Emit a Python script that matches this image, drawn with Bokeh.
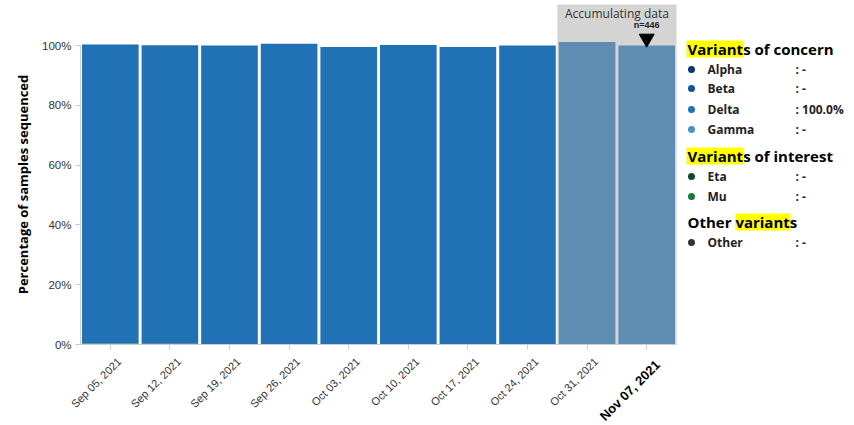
import math
from bokeh.plotting import figure
from bokeh.models import (ColumnDataSource, Range1d, FixedTicker, PrintfTickFormatter,
                          LinearAxis, Label)
from bokeh.layouts import row
from bokeh.core.properties import value
from bokeh.embed import file_html
from bokeh.resources import INLINE

# ---------------- data ----------------
weeks = ["Sep 05, 2021", "Sep 12, 2021", "Sep 19, 2021", "Sep 26, 2021", "Oct 03, 2021",
         "Oct 10, 2021", "Oct 17, 2021", "Oct 24, 2021", "Oct 31, 2021", "Nov 07, 2021"]
accumulating = [False, False, False, False, False, False, False, False, True, True]
alpha = [0.0, 0.3, 0.0, 0.0, 0.0, 0.0, 0.0, 0.0, 0.0, 0.0]
beta = [0.0] * 10
delta = [100.0, 99.8, 100.0, 100.6, 99.5, 100.2, 99.5, 100.0, 101.2, 100.0]
gamma = [0.0] * 10
eta = [0.0] * 10
mu = [0.3, 0.0, 0.0, 0.0, 0.0, 0.0, 0.0, 0.0, 0.0, 0.0]
other = [0.0] * 10
last_n = 446
y_ticks = [0, 20, 40, 60, 80, 100]

legend_groups = [
    ("Variants of concern", ["Alpha", "Beta", "Delta", "Gamma"]),
    ("Variants of interest", ["Eta", "Mu"]),
    ("Other variants", ["Other"]),
]
legend_values = {"Alpha": ": -", "Beta": ": -", "Delta": ": 100.0%", "Gamma": ": -",
                 "Eta": ": -", "Mu": ": -", "Other": ": -"}

colors = {"Alpha": "#0d3470", "Beta": "#0b559f", "Delta": "#2171b5", "Gamma": "#4a92c6",
          "Eta": "#0b4a24", "Mu": "#1a7a3c", "Other": "#333333"}
acc_colors = {"Alpha": "#4a6585", "Beta": "#4a77a4", "Delta": "#5f8cb3", "Gamma": "#7ca5c6",
              "Eta": "#4c7060", "Mu": "#5a9070", "Other": "#6a6a6a"}

series = {"Alpha": alpha, "Beta": beta, "Delta": delta, "Gamma": gamma,
          "Eta": eta, "Mu": mu, "Other": other}
stack_order = ["Mu", "Alpha", "Beta", "Gamma", "Eta", "Other", "Delta"]

# ---------------- layout constants (pixels) ----------------
MAIN_W, H = 680, 424
AX_X, AX_Y = 80, 344          # pixel position of the axes origin
PX_WEEK, PX_PCT = 59.6, 2.99  # pixels per week slot / per percent
def dx(px): return px / PX_WEEK
def dy(px): return px / PX_PCT

n = len(weeks)
xs = [i + 0.5 for i in range(n)]

p = figure(width=MAIN_W, height=H,
           x_range=Range1d(-dx(AX_X), dx(MAIN_W - AX_X)),
           y_range=Range1d(-dy(H - AX_Y), dy(AX_Y)),
           output_backend="svg", toolbar_location=None, min_border=0,
           x_axis_location=None, y_axis_location=None)
p.outline_line_color = None
p.xgrid.visible = False
p.ygrid.visible = False

# accumulating background
acc_idx = [i for i, a in enumerate(accumulating) if a]
acc_l, acc_r = min(acc_idx), max(acc_idx) + 1
p.quad(left=acc_l, right=acc_r, bottom=0, top=dy(AX_Y - 4),
       fill_color="#d4d4d4", line_color=None)

def make_src(idx):
    d = {"x": [xs[i] for i in idx]}
    for k in stack_order:
        d[k] = [series[k][i] for i in idx]
    return ColumnDataSource(d)

norm_idx = [i for i, a in enumerate(accumulating) if not a]
p.vbar_stack(stack_order, x="x", width=0.95, source=make_src(norm_idx),
             fill_color=[colors[k] for k in stack_order], line_color=None)
p.vbar_stack(stack_order, x="x", width=0.95, source=make_src(acc_idx),
             fill_color=[acc_colors[k] for k in stack_order], line_color=None)

totals = [sum(series[k][i] for k in stack_order) for i in range(n)]
p.scatter(x=[xs[-1]], y=[totals[-1] + dy(7)], marker="inverted_triangle", size=15,
          fill_color="black", line_color="black")
p.text(x=[xs[-1]], y=[totals[-1] + dy(21)], text=[f"n={last_n}"], text_align="center",
       text_baseline="middle", text_font_size="9px", text_font_style="bold",
       text_font=value("Liberation Sans"), text_color="#222222")
p.text(x=[(acc_l + acc_r) / 2], y=[dy(AX_Y - 12.5)], text=["Accumulating data"],
       text_align="center", text_baseline="middle", text_font_size="12px",
       text_font=value("Open Sans"), text_color="#333333")

# axis lines
p.segment(x0=[0, 0], y0=[0, 0], x1=[0, n], y1=[max(y_ticks), 0], line_color="#cccccc",
          line_width=1)

# y axis (ticks + labels)
yax = LinearAxis(fixed_location=0, ticker=FixedTicker(ticks=y_ticks),
                 formatter=PrintfTickFormatter(format="%d%%"))
yax.axis_line_color = None
yax.major_tick_line_color = "#cccccc"
yax.minor_tick_line_color = None
yax.major_tick_out = 5
yax.major_tick_in = 0
yax.major_label_standoff = 4
yax.major_label_text_font = "Liberation Sans"
yax.major_label_text_font_size = "11.5px"
yax.major_label_text_color = "#333333"
p.add_layout(yax, "left")

# x axis (ticks)
xax = LinearAxis(fixed_location=0, ticker=FixedTicker(ticks=xs))
xax.major_label_overrides = {x: "" for x in xs}
xax.axis_line_color = None
xax.major_tick_line_color = "#cccccc"
xax.minor_tick_line_color = None
xax.major_tick_out = 5
xax.major_tick_in = 0
p.add_layout(xax, "below")

# x tick labels (rotated, last one bold)
p.text(x=[x + dx(9) for x in xs[:-1]], y=[-dy(15)] * (n - 1), text=weeks[:-1],
       angle=math.pi / 4, text_align="right", text_baseline="middle",
       text_font=value("Liberation Sans"), text_font_size="11px", text_color="#333333")
p.text(x=[xs[-1] + dx(11)], y=[-dy(18)], text=[weeks[-1]],
       angle=math.pi / 4, text_align="right", text_baseline="middle",
       text_font=value("Liberation Sans"), text_font_size="13px", text_font_style="bold",
       text_color="#000000")

# y axis title
p.text(x=[-dx(AX_X - 22)], y=[dy(AX_Y - 184)], text=["Percentage of samples sequenced"],
       angle=math.pi / 2, text_align="center", text_baseline="middle",
       text_font=value("Open Sans"), text_font_style="bold", text_font_size="13px",
       text_color="#000000")

# ---------------- legend panel (data units == page pixels) ----------------
LW = 174
lf = figure(width=LW, height=H, x_range=Range1d(MAIN_W, MAIN_W + LW), y_range=Range1d(H, 0),
            output_backend="svg", toolbar_location=None, min_border=0)
lf.axis.visible = False
lf.xgrid.visible = False
lf.ygrid.visible = False
lf.outline_line_color = None

header_y = [48, 155, 221]
item_y = {"Alpha": 69, "Beta": 88, "Delta": 109, "Gamma": 129, "Eta": 176, "Mu": 196, "Other": 242}
highlights = [(686, 743), (686, 743), (735, 790)]

for (title, items), hy, (hl, hr) in zip(legend_groups, header_y, highlights):
    lf.quad(left=hl, right=hr, top=hy - 8, bottom=hy + 9, fill_color="#ffff00", line_color=None)
    lf.text(x=[687], y=[hy], text=[title], text_baseline="middle", text_font=value("Open Sans"),
            text_font_style="bold", text_font_size="15px", text_color="#000000")
    for it in items:
        yy = item_y[it]
        lf.scatter(x=[691], y=[yy], size=7, fill_color=colors[it], line_color=None)
        lf.text(x=[707], y=[yy], text=[it], text_baseline="middle", text_font=value("Open Sans"),
                text_font_style="bold", text_font_size="12px", text_color="#222222")
        lf.text(x=[795], y=[yy], text=[legend_values[it]], text_baseline="middle",
                text_font=value("Open Sans"), text_font_style="bold", text_font_size="12px",
                text_color="#222222")

layout = row(p, lf)
open("out.html", "w").write(file_html(layout, INLINE))
